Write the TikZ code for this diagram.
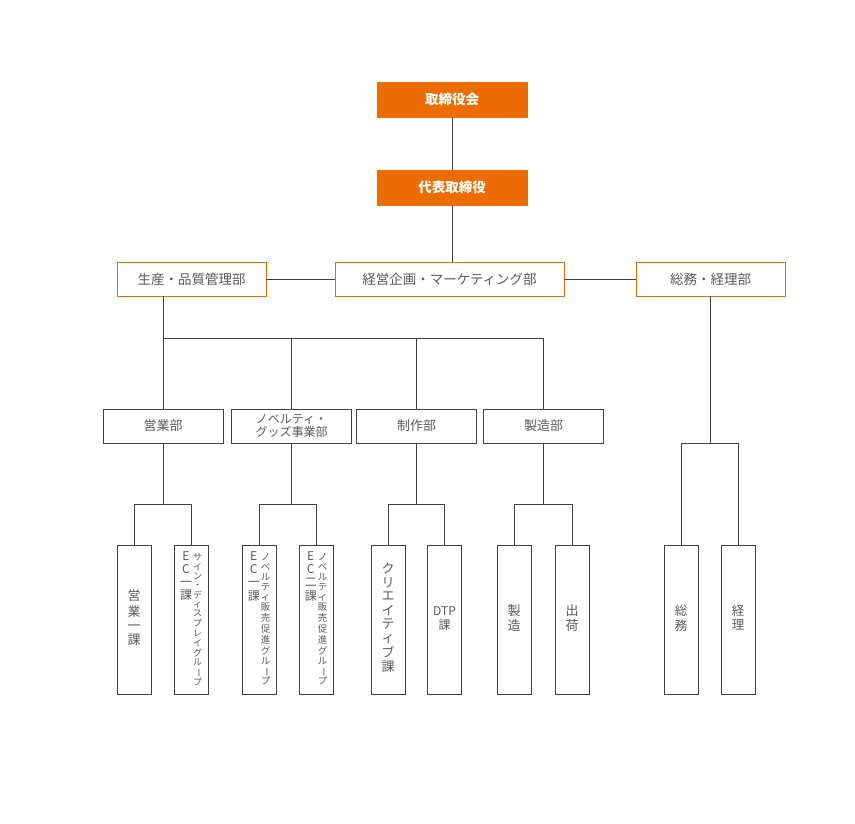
\documentclass[tikz,border=0pt]{standalone}
\usepackage{fontspec}
\setmainfont{Noto Sans CJK JP}
\usepackage{graphicx}
\usetikzlibrary{positioning}
\definecolor{orenji}{HTML}{EC6C00}
\definecolor{senc}{HTML}{404040}
\definecolor{moji}{HTML}{595959}
\newcommand{\tatebo}{\rotatebox[origin=c]{-90}{ー}}
\newcommand{\retsu}[3]{{\fontsize{#1}{#2}\selectfont\begin{tabular}[t]{@{}c@{}}#3\end{tabular}}}

\begin{document}
\begin{tikzpicture}[x=1pt, y=-1pt,
      yaku/.style={fill=orenji, draw=orenji, text=white, font=\fontsize{13.5}{16}\selectfont\bfseries, minimum width=150pt, minimum height=35pt, inner sep=0pt},
      bu/.style={draw=orenji, line width=0.9pt, fill=white, text=moji, font=\fontsize{13.5}{16}\selectfont, minimum height=34pt, inner sep=0pt},
      ka/.style={draw=senc, line width=0.9pt, text=moji, align=center, font=\fontsize{13}{15}\selectfont, minimum width=120pt, minimum height=34pt, inner sep=0pt},
      tate/.style={draw=senc, line width=0.9pt, text=moji, minimum width=34pt, minimum height=149pt, inner sep=0pt},
      kei/.style={draw=senc, line width=0.8pt}]
    \useasboundingbox (0,0) rectangle (855,824);
    % top
    \node[yaku] (torikai) at (452,99.5) {取締役会};
    \node[yaku] (daihyo) at (452,187.5) {代表取締役};
    % departments
    \node[bu, minimum width=149pt] (seisan) at (191.5,279) {生産・品質管理部};
    \node[bu, minimum width=229pt] (keiei) at (449.5,279) {経営企画・マーケティング部};
    \node[bu, minimum width=149pt] (somu) at (710.5,279) {総務・経理部};
    \draw[kei] (torikai) -- (daihyo);
    \draw[kei] (daihyo.south) -- (daihyo.south |- keiei.north);
    \draw[kei] (seisan) -- (keiei);
    \draw[kei] (keiei) -- (somu);
    % sections
    \node[ka] (eigyo) at (163,426) {営業部};
    \node[ka, font=\fontsize{12}{13.5}\selectfont] (novelty) at (291.5,426) {ノベルティ・\\グッズ事業部};
    \node[ka] (seisaku) at (416.5,426) {制作部};
    \node[ka] (seizo) at (543.5,426) {製造部};
    \coordinate (bus) at (163,338);
    \draw[kei] (seisan.south -| eigyo.north) -- (eigyo.north);
    \draw[kei] (eigyo.north |- bus) -| (seizo.north);
    \draw[kei] (novelty.north) -- (novelty.north |- bus);
    \draw[kei] (seisaku.north) -- (seisaku.north |- bus);
    % units
    \node[tate] (eigyo1) at (134,619.5) {\retsu{13}{14}{営\\業\\一\\課}};
    \node[tate] (sign) at (191,619.5) {\retsu{12}{13}{E\\C\\一\\課}\hspace{1pt}\retsu{9}{9}{サ\\イ\\ン\\・\\デ\\ィ\\ス\\プ\\レ\\イ\\グ\\ル\\\tatebo\\プ}};
    \node[tate] (novec1) at (259,619.5) {\retsu{12}{13}{E\\C\\一\\課}\hspace{1pt}\retsu{9.5}{9.7}{ノ\\ベ\\ル\\テ\\ィ\\販\\売\\促\\進\\グ\\ル\\\tatebo\\プ}};
    \node[tate] (novec2) at (316,619.5) {\retsu{12}{13}{E\\C\\二\\課}\hspace{1pt}\retsu{9.5}{9.7}{ノ\\ベ\\ル\\テ\\ィ\\販\\売\\促\\進\\グ\\ル\\\tatebo\\プ}};
    \node[tate] (creative) at (388,619.5) {\retsu{13}{13.5}{ク\\リ\\エ\\イ\\テ\\ィ\\ブ\\課}};
    \node[tate] (dtp) at (444.5,619.5) {\retsu{12}{14}{DTP\\課}};
    \node[tate] (seizo1) at (514,619.5) {\retsu{13}{14}{製\\造}};
    \node[tate] (shukka) at (572,619.5) {\retsu{13}{14}{出\\荷}};
    \node[tate] (somu1) at (681,619.5) {\retsu{12.5}{13}{総\\務}};
    \node[tate] (keiri) at (738,619.5) {\retsu{12.5}{13}{経\\理}};
    \draw[kei] (eigyo.south) -- ++(0,61) coordinate (jE);
    \draw[kei] (eigyo1.north) |- (jE) -| (sign.north);
    \draw[kei] (novelty.south) -- ++(0,61) coordinate (jN);
    \draw[kei] (novec1.north) |- (jN) -| (novec2.north);
    \draw[kei] (seisaku.south) -- ++(0,61) coordinate (jP);
    \draw[kei] (creative.north) |- (jP) -| (dtp.north);
    \draw[kei] (seizo.south) -- ++(0,61) coordinate (jZ);
    \draw[kei] (seizo1.north) |- (jZ) -| (shukka.north);
    \draw[kei] (somu.south) -- ++(0,147) coordinate (jS);
    \draw[kei] (somu1.north) |- (jS) -| (keiri.north);
  \end{tikzpicture}
\end{document}
